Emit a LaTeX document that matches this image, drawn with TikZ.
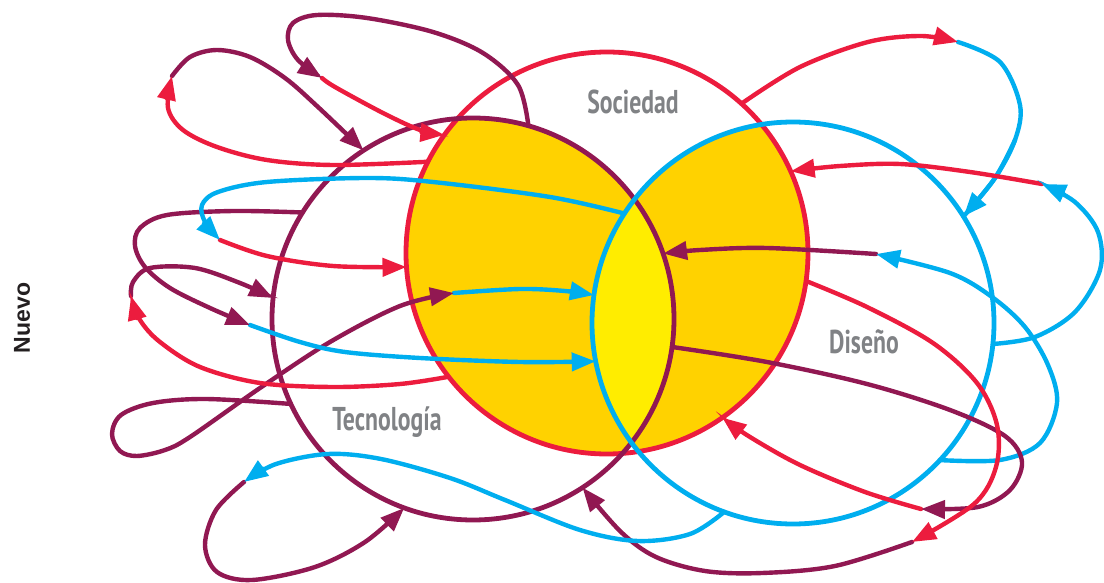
\documentclass[tikz,border=0pt]{standalone}
\usepackage{fontspec}
\setmainfont{Liberation Sans}
\newfontfamily\labelfont{PT Sans}
\usetikzlibrary{arrows.meta}
\definecolor{socred}{RGB}{236,28,62}
\definecolor{tecpurple}{RGB}{145,24,82}
\definecolor{disblue}{RGB}{0,174,239}
\definecolor{overlapgold}{RGB}{255,210,0}
\definecolor{corelemon}{RGB}{255,237,0}
\definecolor{labelgray}{RGB}{128,130,133}
\definecolor{sidedark}{RGB}{35,31,32}
\begin{document}
\begin{tikzpicture}[x=0.5pt,y=-0.5pt,
  ring/.style={circle, draw, line width=2.4pt, minimum size=201pt, inner sep=0pt, outer sep=0pt},
  flow/.style={line width=2.2pt, line cap=round, -{Triangle[length=12pt,width=9pt]}},
  link/.style={line width=2.2pt, line cap=round},
  setname/.style={text=labelgray, font=\labelfont\bfseries\fontsize{16.5}{18}\selectfont},
  smoothpath/.style={smooth, tension=0.55}]
\useasboundingbox (0,0) rectangle (1104,583);

% overlapping areas
\begin{scope}
  \clip (607,253) circle[radius=100.5pt];
  \fill[overlapgold] (473,319) circle[radius=100.5pt];
  \fill[overlapgold] (793,323) circle[radius=100.5pt];
  \clip (473,319) circle[radius=100.5pt];
  \fill[corelemon] (793,323) circle[radius=100.5pt];
\end{scope}

% the three sets
\node[ring, draw=socred]    (soc) at (607,253) {};
\node[ring, draw=tecpurple] (tec) at (473,319) {};
\node[ring, draw=disblue]   (dis) at (793,323) {};

\node[setname] (lsoc) at (633,102) {\scalebox{0.72}[1]{Sociedad}};
\node[setname] (ldis) at (864,342) {\scalebox{0.72}[1]{Diseño}};
\node[setname] (ltec) at (387,422) {\scalebox{0.72}[1]{Tecnología}};
\node[rotate=90, text=sidedark, font=\bfseries\fontsize{11.5}{13}\selectfont] (nuevo) at (22,318) {Nuevo};

% junctions where a flow changes colour
\coordinate (j1) at (958,42);
\coordinate (j2) at (1042,184);
\coordinate (j3) at (876,254);
\coordinate (j4) at (921,509);
\coordinate (j5) at (912,542);
\coordinate (j6) at (244,482);
\coordinate (j7) at (454,293);
\coordinate (j8) at (131,296);
\coordinate (j9) at (250,325);
\coordinate (j10) at (220,240);
\coordinate (j11) at (172,76);
\coordinate (j12) at (322,78);

% top right: Sociedad -> Diseño
\draw[link, disblue] plot[smoothpath] coordinates {(j1) (1000,62) (1020,105) (1015,140) (995,178) (dis.32)};
\draw[flow, disblue] plot[smoothpath] coordinates {(1015,140) (995,178) (dis.32)};
\draw[flow, socred] plot[smoothpath] coordinates {(soc.48) (800,67) (868,42) (921,36) (j1)};

% right: Diseño loop -> Sociedad
\draw[flow, socred] plot[smoothpath] coordinates {(j2) (970,172) (900,164) (840,166) (soc.24)};
\draw[flow, disblue] plot[smoothpath] coordinates {(dis.-6) (1035,337) (1075,312) (1100,270) (1098,232) (1075,202) (j2)};

% right: Diseño loop -> Tecnología
\draw[flow, tecpurple] plot[smoothpath] coordinates {(j3) (767,248) (700,250) (tec.19)};
\draw[flow, disblue] plot[smoothpath] coordinates {(dis.-43) (1000,460) (1040,443) (1057,403) (1048,365) (1025,327) (992,297) (950,273) (j3)};

% right: Tecnología -> Sociedad
\draw[flow, socred] plot[smoothpath] coordinates {(j4) (865,492) (800,465) (750,437) (soc.-55)};
\draw[flow, tecpurple] plot[smoothpath] coordinates {(tec.-8) (767,362) (867,384) (950,410) (1005,436) (1022,462) (1010,490) (978,507) (j4)};

% right: Sociedad -> Tecnología
\draw[flow, tecpurple] plot[smoothpath] coordinates {(j5) (835,566) (762,573) (705,571) (656,557) (621,532) (tec.-57)};
\draw[flow, socred] plot[smoothpath] coordinates {(soc.-8) (867,307) (933,343) (977,383) (997,425) (996,467) (974,504) (j5)};

% bottom: Diseño -> Tecnología
\draw[flow, tecpurple] plot[smoothpath] coordinates {(j6) (216,510) (205,545) (217,572) (252,580) (315,567) (365,542) (tec.250)};
\draw[flow, disblue] plot[smoothpath] coordinates {(dis.-110) (690,534) (638,541) (580,530) (505,500) (450,478) (381,459) (328,454) (276,464) (j6)};

% left: Tecnología -> Diseño
\draw[flow, disblue] plot[smoothpath] coordinates {(j7) (520,289) (565,291) (dis.172)};
\draw[flow, tecpurple] plot[smoothpath] coordinates {(tec.205) (206,399) (153,403) (121,415) (112,434) (120,451) (137,456) (165,450) (190,437) (260,388) (330,342) (400,306) (j7)};

% left: Sociedad -> Tecnología
\draw[flow, tecpurple] plot[smoothpath] coordinates {(j8) (133,282) (150,268) (195,268) (240,283) (tec.174)};
\draw[flow, socred] plot[smoothpath] coordinates {(soc.218) (400,384) (333,387) (260,383) (200,367) (160,342) (140,320) (j8)};

% left: Tecnología -> Diseño
\draw[flow, disblue] plot[smoothpath] coordinates {(j9) (300,342) (345,352) (420,358) (520,362) (dis.191)};
\draw[flow, tecpurple] plot[smoothpath] coordinates {(tec.148) (233,211) (167,215) (140,228) (135,246) (145,267) (170,288) (210,308) (j9)};

% upper left: Diseño -> Sociedad
\draw[flow, socred] plot[smoothpath] coordinates {(j10) (267,256) (333,266) (soc.184)};
\draw[flow, disblue] plot[smoothpath] coordinates {(dis.147) (550,197) (433,182) (367,178) (267,182) (218,192) (202,205) (205,222) (j10)};

% upper left: Sociedad -> Tecnología
\draw[flow, tecpurple] plot[smoothpath] coordinates {(j11) (190,57) (217,50) (250,57) (285,78) (318,107) (tec.123)};
\draw[flow, socred] plot[smoothpath] coordinates {(soc.153) (333,165) (267,160) (217,147) (183,130) (168,108) (j11)};

% top: Tecnología -> Sociedad
\draw[flow, socred] plot[smoothpath] coordinates {(j12) (335,87) (383,113) (420,130) (soc.144)};
\draw[flow, tecpurple] plot[smoothpath] coordinates {(tec.74) (518,85) (483,53) (433,32) (367,18) (317,15) (293,23) (288,40) (298,60) (j12)};
\end{tikzpicture}
\end{document}
